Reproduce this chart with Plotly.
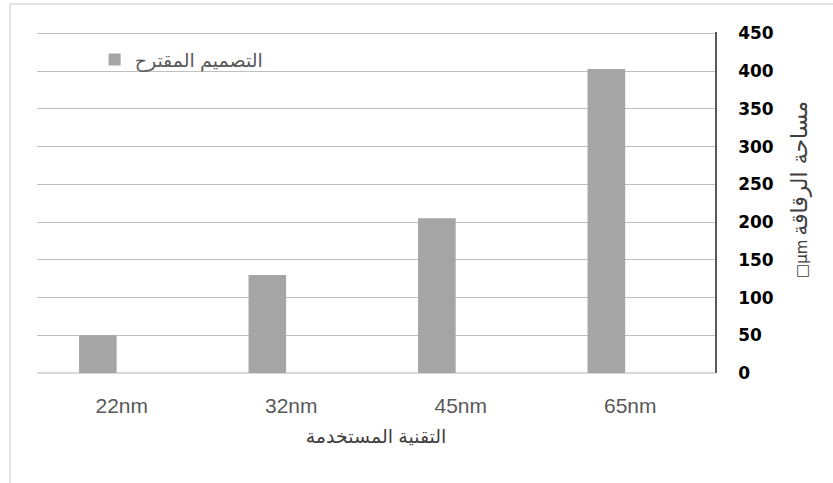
import plotly.graph_objects as go

# Chip area per process node
categories = ["22nm", "32nm", "45nm", "65nm"]
area_values = [50, 130, 205, 403]
series_name = "التصميم المقترح"
y_ticks = [0, 50, 100, 150, 200, 250, 300, 350, 400, 450]

x_title = "التقنية المستخدمة"
y_title_unit = "□µm"
y_title_text = "مساحة الرقاقة"

fig = go.Figure()
fig.add_trace(go.Bar(
    x=categories,
    y=area_values,
    name=series_name,
    marker=dict(color="#a5a5a5", line=dict(width=0)),
    width=0.222,
    offset=-0.252,
    showlegend=True,
))

# Plot area: left edge 37px, right edge 715px, top 32px, bottom 373px
fig.update_layout(
    width=833,
    height=483,
    margin=dict(l=37, r=118, t=32, b=110),
    paper_bgcolor="white",
    plot_bgcolor="white",
    font=dict(family="Liberation Sans, DejaVu Sans, Arial", color="#595959"),
    showlegend=True,
    legend=dict(
        x=0.085, y=0.975, xanchor="left", yanchor="top",
        bgcolor="rgba(0,0,0,0)",
        font=dict(size=19, color="#595959"),
        itemsizing="constant",
    ),
    shapes=[dict(
        type="rect", xref="paper", yref="paper",
        x0=-0.0398, x1=1.3, y0=1.0821, y1=-0.5,
        line=dict(color="#d9d9d9", width=1.5),
        fillcolor="rgba(0,0,0,0)",
        layer="below",
    )],
    annotations=[dict(
        text=(f"<span style='font-size:15px'>{y_title_unit}</span> "
              f"<span style='font-size:22px'>{y_title_text}</span>"),
        xref="paper", yref="paper",
        x=(799 - 37) / 678, y=(373 - 190) / 341,
        xanchor="center", yanchor="middle",
        textangle=-90, showarrow=False,
        font=dict(family="DejaVu Sans, Liberation Sans", color="#404040"),
    )],
)

fig.update_xaxes(
    type="category",
    showgrid=False,
    showline=False,
    zeroline=False,
    ticks="",
    tickfont=dict(size=21, color="#595959"),
    ticklabelstandoff=18,
    title=dict(text=x_title, font=dict(size=19, color="#404040"), standoff=13),
    automargin=False,
)

fig.update_yaxes(
    side="right",
    range=[0, 452],
    tickvals=y_ticks,
    ticktext=[str(v) for v in y_ticks],
    showgrid=True,
    gridcolor="#bfbfbf",
    gridwidth=1.3,
    zeroline=True,
    zerolinecolor="#d9d9d9",
    zerolinewidth=1.5,
    showline=True,
    linecolor="#595959",
    linewidth=1.5,
    ticks="",
    tickfont=dict(family="DejaVu Sans", size=17, color="#000000", weight="bold"),
    ticklabelstandoff=18,
    automargin=False,
)

fig.write_html("out.html")
